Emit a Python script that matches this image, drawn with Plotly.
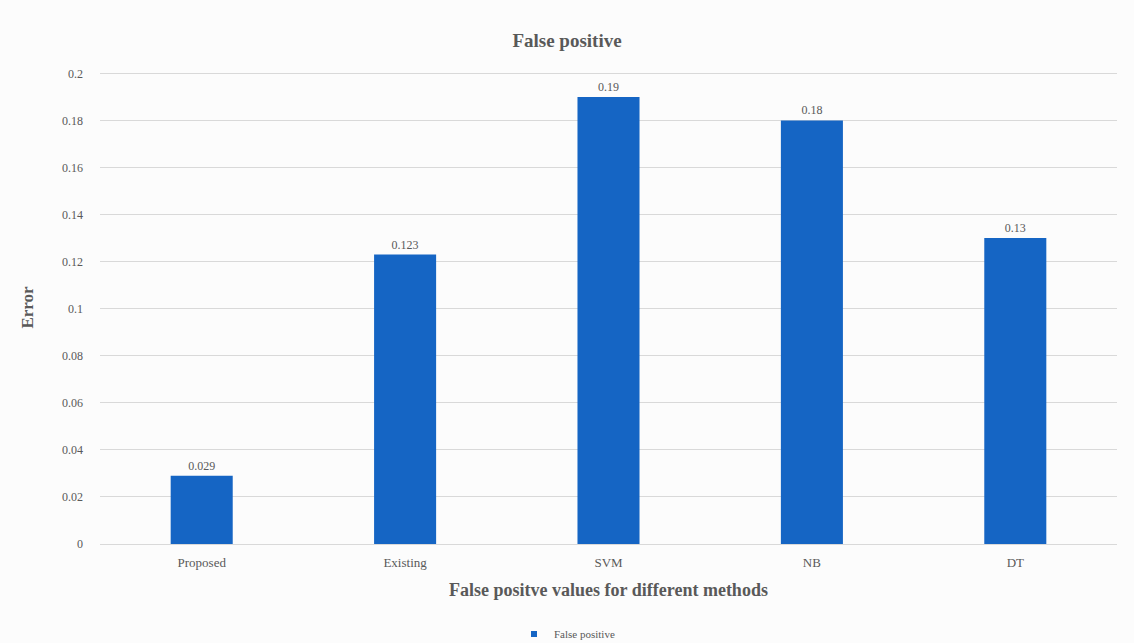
import plotly.graph_objects as go

categories = ["Proposed", "Existing", "SVM", "NB", "DT"]
values = [0.029, 0.123, 0.19, 0.18, 0.13]
value_labels = ["0.029", "0.123", "0.19", "0.18", "0.13"]
tick_vals = [0, 0.02, 0.04, 0.06, 0.08, 0.1, 0.12, 0.14, 0.16, 0.18, 0.2]
tick_text = ["0", "0.02", "0.04", "0.06", "0.08", "0.1", "0.12", "0.14", "0.16", "0.18", "0.2"]

font_family = "Liberation Serif, DejaVu Serif, serif"
text_gray = "#595959"
bar_color = "#1565c4"

fig = go.Figure()
fig.add_trace(go.Bar(
    x=categories, y=values, name="False positive", showlegend=False,
    marker=dict(color=bar_color, line=dict(width=0)),
    text=value_labels, textposition="outside", cliponaxis=False,
    textfont=dict(family=font_family, size=12, color=text_gray),
))
# legend entry with a small square symbol
fig.add_trace(go.Scatter(
    x=[None], y=[None], mode="markers", name="False positive",
    marker=dict(symbol="square", size=6, color=bar_color),
))

fig.update_layout(
    width=1134, height=643,
    paper_bgcolor="#fcfcfc", plot_bgcolor="#fcfcfc",
    margin=dict(l=100, r=17, t=71, b=99, autoexpand=False),
    bargap=0.695,
    title=dict(text="<b>False positive</b>", x=0.5, xanchor="center",
               yref="container", y=1 - 40 / 643, yanchor="middle",
               font=dict(family=font_family, size=19, color=text_gray)),
    font=dict(family=font_family, color=text_gray),
    xaxis=dict(
        title=dict(text="<b>False positve values for different methods</b>", standoff=14,
                   font=dict(family=font_family, size=18, color=text_gray)),
        tickfont=dict(family=font_family, size=13, color=text_gray),
        showgrid=False, showline=True, linecolor="#d9d9d9", linewidth=1, ticks="",
        ticklabelstandoff=6,
    ),
    yaxis=dict(
        title=dict(text="<b>Error</b>", standoff=24,
                   font=dict(family=font_family, size=17, color=text_gray)),
        range=[0, 0.201], tickvals=tick_vals, ticktext=tick_text,
        tickfont=dict(family=font_family, size=12, color=text_gray),
        showgrid=True, gridcolor="#d9d9d9", gridwidth=1, zeroline=False,
        ticklabelstandoff=16,
    ),
    showlegend=True,
    legend=dict(orientation="h", xref="container", x=0.5, xanchor="center",
                yref="container", y=9 / 643, yanchor="middle",
                font=dict(family=font_family, size=11, color=text_gray),
                itemwidth=30),
)

fig.write_html("out.html")
